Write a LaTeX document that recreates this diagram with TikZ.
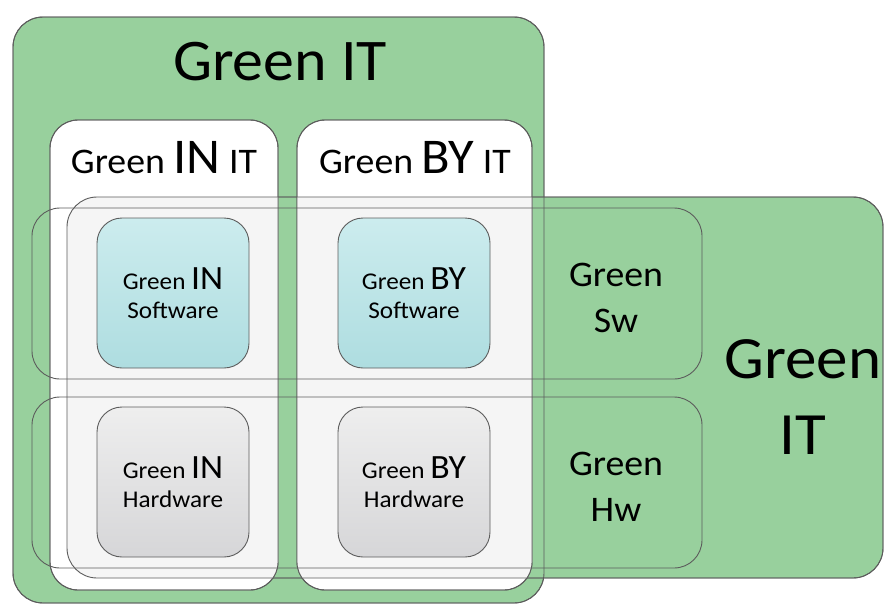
\documentclass[tikz,border=0pt]{standalone}
\usepackage{fontspec}
\setmainfont{Carlito}[FakeStretch=1.05]
\definecolor{itgreen}{RGB}{152,208,157}
\definecolor{linegray}{RGB}{92,92,92}
\definecolor{tintgray}{RGB}{245,245,245}
\definecolor{swtop}{RGB}{204,236,238}
\definecolor{swbot}{RGB}{174,221,224}
\definecolor{hwtop}{RGB}{238,238,238}
\definecolor{hwbot}{RGB}{214,214,216}
\newcommand{\setsz}[2]{\fontsize{#1}{#2}\selectfont}

\begin{document}
\begin{tikzpicture}
  [x=1pt,y=-1pt,line width=0.9pt,
   itbox/.style={draw=linegray,fill=itgreen,rounded corners=30pt,inner sep=0pt,outer sep=0pt},
   colbox/.style={draw=linegray,fill=white,rounded corners=28pt,inner sep=0pt,outer sep=0pt},
   rowbox/.style={draw=linegray,rounded corners=28pt,inner sep=0pt,outer sep=0pt,
                  minimum width=670pt,minimum height=171pt},
   swbox/.style={draw=linegray,rounded corners=25pt,inner sep=0pt,align=center,
                 minimum width=152pt,minimum height=150pt,top color=swtop,bottom color=swbot,
                 font=\setsz{24}{29}},
   hwbox/.style={swbox,top color=hwtop,bottom color=hwbot},
   lbl/.style={anchor=base,align=center,inner sep=0pt}]

  \useasboundingbox (0,0) rectangle (885,605);

  % the two Green IT blocks
  \node at (278.5,310) [itbox,minimum width=531pt,minimum height=586pt] (vert) {};
  \node at (475,387.5) [itbox,minimum width=816pt,minimum height=381pt] (horiz) {};

  % IN / BY columns
  \node at (164,355)   [colbox,minimum width=228pt,minimum height=470pt] (incol) {};
  \node at (414.5,355) [colbox,minimum width=235pt,minimum height=470pt] (bycol) {};

  \begin{scope}
    \clip[rounded corners=30pt] (horiz.north west) rectangle (horiz.south east);
    \fill[tintgray,rounded corners=28pt] (incol.north west) rectangle (incol.south east);
    \fill[tintgray,rounded corners=28pt] (bycol.north west) rectangle (bycol.south east);
  \end{scope}

  \foreach \b/\r in {vert/30,horiz/30,incol/28,bycol/28}
    \draw[linegray,rounded corners=\r pt] (\b.north west) rectangle (\b.south east);

  % Sw / Hw rows
  \node at (367,293.5) [rowbox] (swrow) {};
  \node at (367,482.5) [rowbox] (hwrow) {};

  % inner boxes
  \node at (173,293) [swbox] (insw) {Green {\setsz{34}{34}IN}\\Software};
  \node at (414,293) [swbox] (bysw) {Green {\setsz{34}{34}BY}\\Software};
  \node at (173,482) [hwbox] (inhw) {Green {\setsz{34}{34}IN}\\Hardware};
  \node at (414,482) [hwbox] (byhw) {Green {\setsz{34}{34}BY}\\Hardware};

  % labels
  \node at (280,80)  [lbl,font=\setsz{59}{60}] (title) {Green IT};
  \node at (164,173) [lbl,font=\setsz{36}{40}] (intitle) {Green {\setsz{50}{50}IN} IT};
  \node at (415,173) [lbl,font=\setsz{36}{40}] (bytitle) {Green {\setsz{50}{50}BY} IT};
  \node at (616,332) [lbl,font=\setsz{36}{46}] (swlbl) {Green\\Sw};
  \node at (616,521) [lbl,font=\setsz{36}{46}] (hwlbl) {Green\\Hw};
  \node at (803,454) [lbl,font=\setsz{60}{76}] (itlbl) {Green\\IT};
\end{tikzpicture}
\end{document}
